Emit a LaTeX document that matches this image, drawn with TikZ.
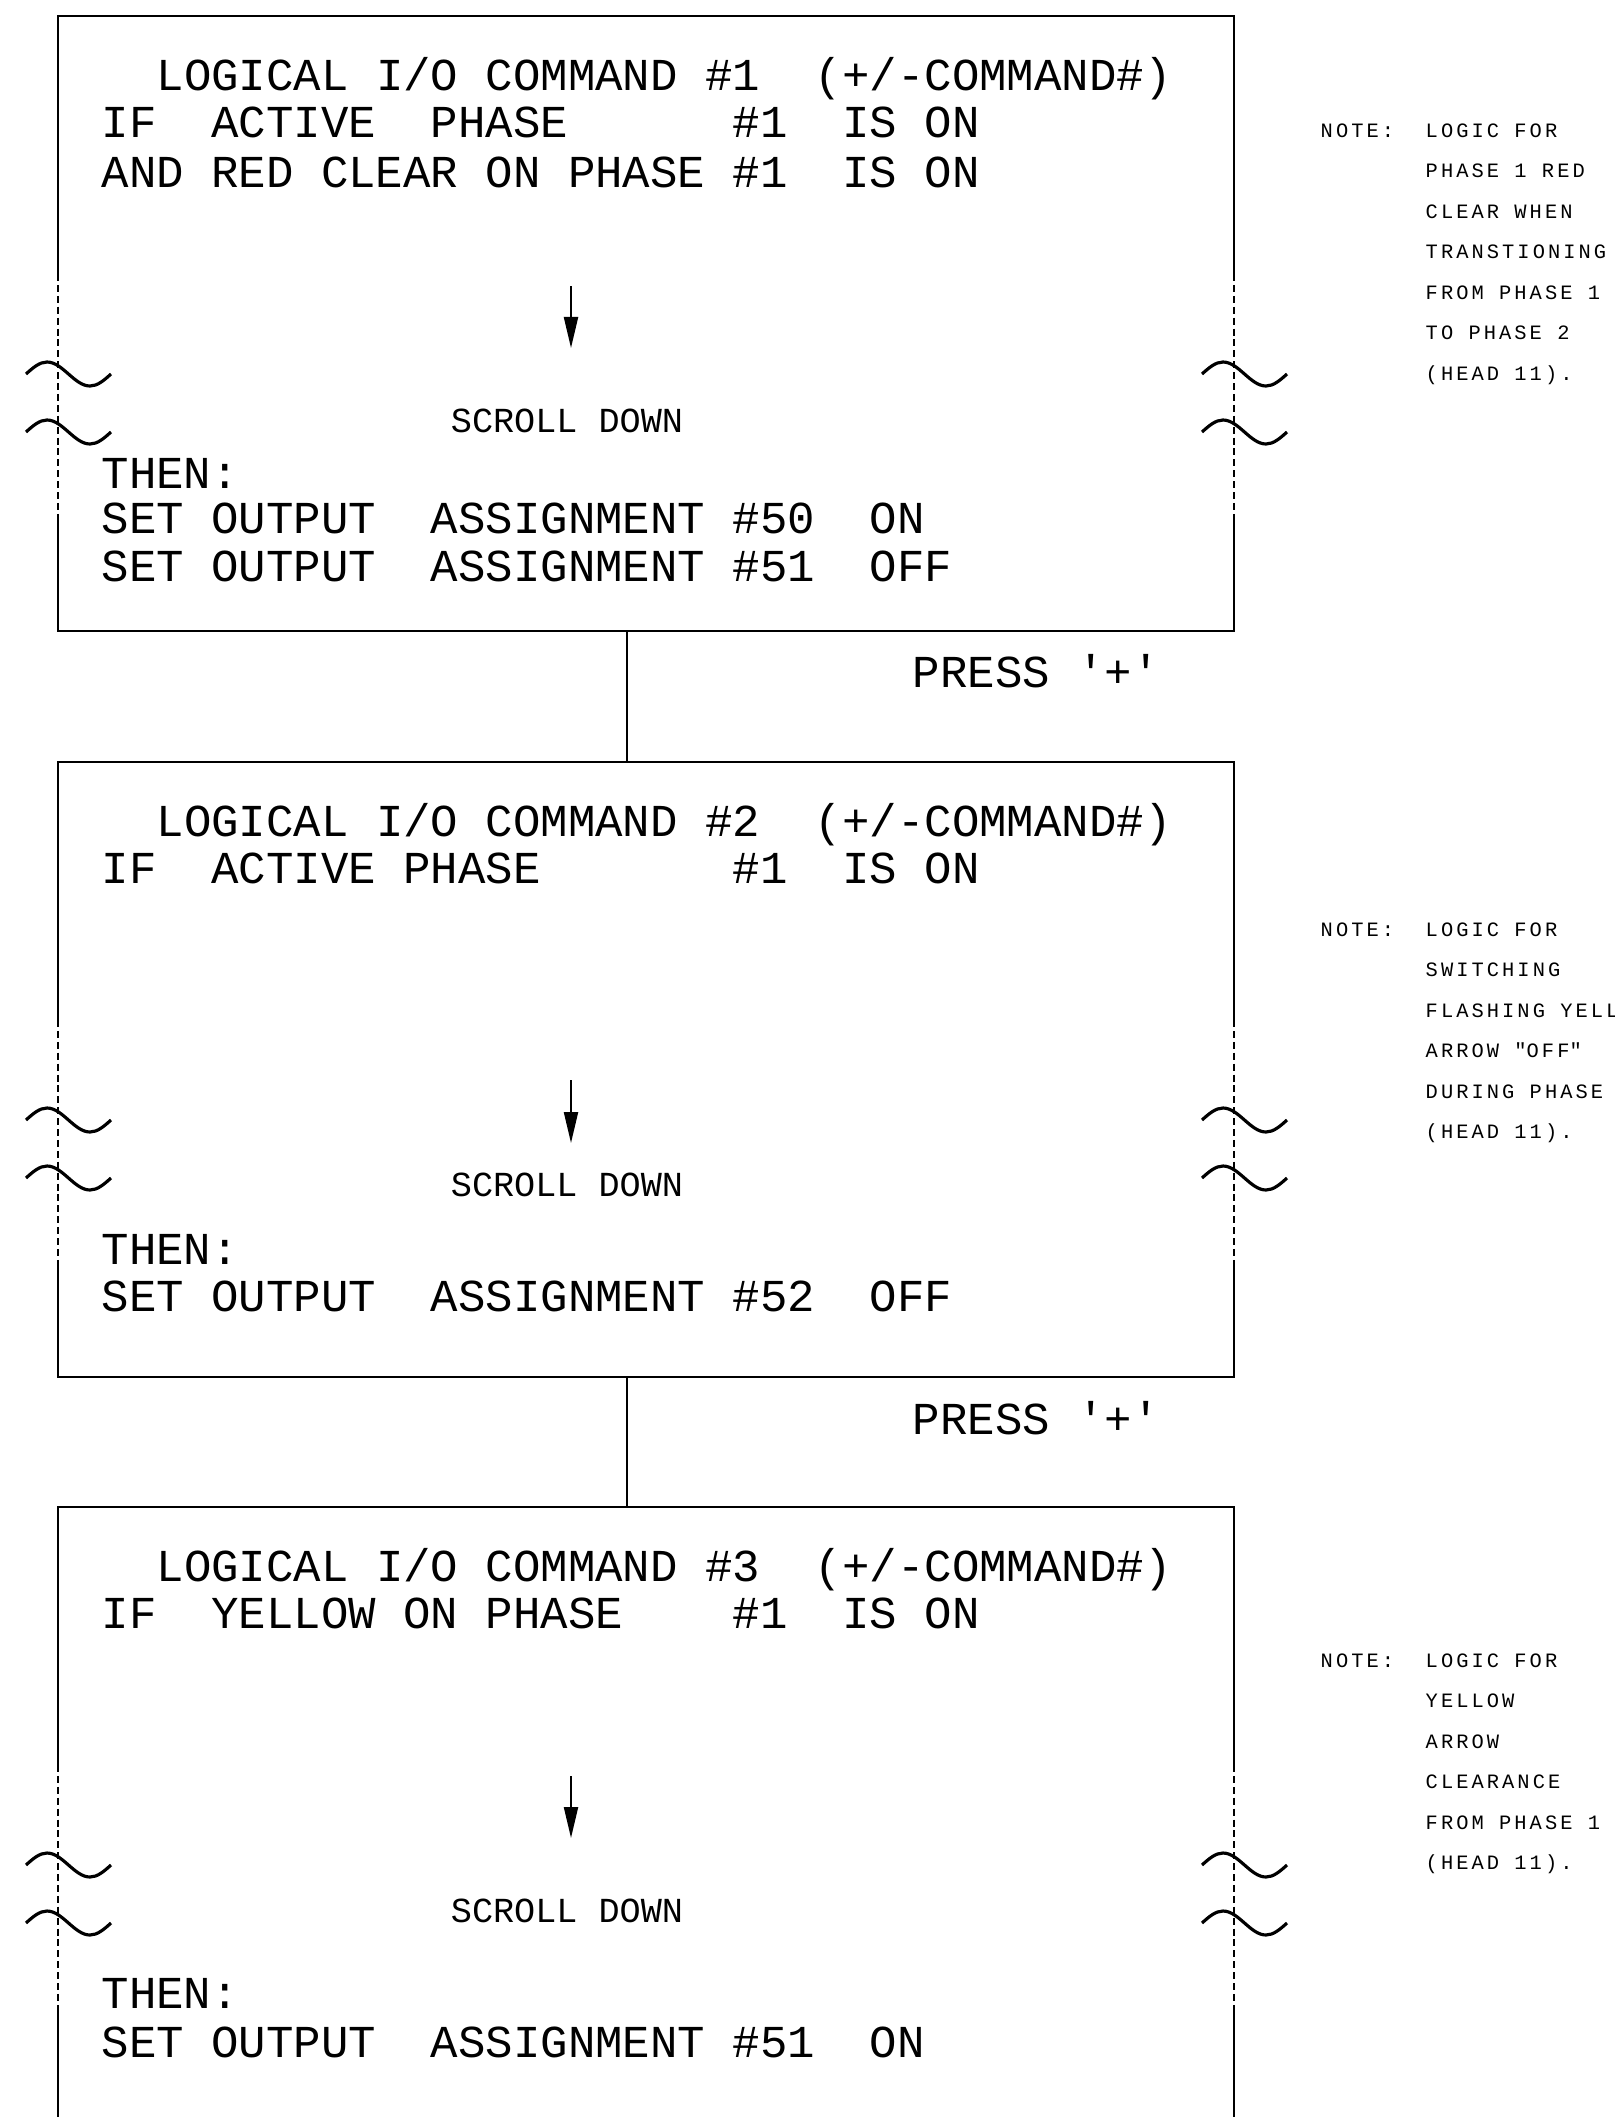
\documentclass[tikz,border=0pt]{standalone}
\usepackage{fontspec}
\usetikzlibrary{arrows.meta}
\newfontfamily\cadfont{Liberation Mono}
\newfontfamily\notefont[LetterSpace=15]{Liberation Mono}
\tikzset{
  frame/.style={line width=0.6pt},
  brk/.style={line width=0.6pt, dash pattern=on 2pt off 1.1pt},
  wave/.style={line width=0.9pt},
  scrollarrow/.style={line width=0.6pt, -{Triangle[length=3.1mm, width=1.4mm]}},
  cmd/.style={anchor=base west, inner sep=0pt, font=\cadfont\fontsize{13}{15}\selectfont},
  scrl/.style={anchor=base, inner sep=0pt, font=\cadfont\fontsize{10}{12}\selectfont},
  notetxt/.style={anchor=base west, inner sep=0pt, font=\notefont\fontsize{5.8}{7}\selectfont},
}
\begin{document}
\begin{tikzpicture}[x=0.01cm, y=-0.01cm]
  \useasboundingbox (0,0) rectangle (1614,2117);
  \clip (0,0) rectangle (1614,2117);
  % 상자 세 개와 끊김 표시
  \foreach \bt in {16,762,1507} {
    \draw[frame] (58,\bt+258) -- (58,\bt) -- (1234,\bt) -- (1234,\bt+258);
    \draw[frame] (58,\bt+499) -- (58,\bt+615) -- (1234,\bt+615) -- (1234,\bt+499);
    \draw[brk] (58,\bt+258) -- (58,\bt+499);
    \draw[brk] (1234,\bt+258) -- (1234,\bt+499);
    \foreach \ex in {58,1234}
      \foreach \w in {358,416}
        \draw[wave] (\ex-32,\bt+\w) sin (\ex-11,\bt+\w-12) cos (\ex+10.5,\bt+\w)
                    sin (\ex+32,\bt+\w+12) cos (\ex+53,\bt+\w);
  }
  % 연결선
  \coordinate (c1a) at (627,631);
  \coordinate (c1b) at (627,762);
  \coordinate (c2a) at (627,1377);
  \coordinate (c2b) at (627,1507);
  \draw[frame] (c1a) -- (c1b);
  \draw[frame] (c2a) -- (c2b);
  \node[cmd] (press1) at (912,687) {PRESS \textquotesingle+\textquotesingle};
  \node[cmd] (press2) at (912,1434) {PRESS \textquotesingle+\textquotesingle};

  % 명령 #1
  \node[cmd] (t1) at (101,90) {~~LOGICAL I/O COMMAND \#1~~(+/-COMMAND\#)};
  \node[cmd] (if1) at (101,137) {IF~~ACTIVE~~PHASE~~~~~~\#1~~IS ON};
  \node[cmd] (and1) at (101,187) {AND RED CLEAR ON PHASE \#1~~IS ON};
  \coordinate (a1s) at (571,286);
  \coordinate (a1e) at (571,348);
  \draw[scrollarrow] (a1s) -- (a1e);
  \node[scrl] (sd1) at (567,432) {SCROLL DOWN};
  \node[cmd] (then1) at (101,488) {THEN:};
  \node[cmd] (set1a) at (101,533) {SET OUTPUT~~ASSIGNMENT \#50~~ON};
  \node[cmd] (set1b) at (101,581) {SET OUTPUT~~ASSIGNMENT \#51~~OFF};

  % 명령 #2
  \node[cmd] (t2) at (101,836) {~~LOGICAL I/O COMMAND \#2~~(+/-COMMAND\#)};
  \node[cmd] (if2) at (101,883) {IF~~ACTIVE PHASE~~~~~~~\#1~~IS ON};
  \coordinate (a2s) at (571,1080);
  \coordinate (a2e) at (571,1143);
  \draw[scrollarrow] (a2s) -- (a2e);
  \node[scrl] (sd2) at (567,1196) {SCROLL DOWN};
  \node[cmd] (then2) at (101,1264) {THEN:};
  \node[cmd] (set2) at (101,1311) {SET OUTPUT~~ASSIGNMENT \#52~~OFF};

  % 명령 #3
  \node[cmd] (t3) at (101,1581) {~~LOGICAL I/O COMMAND \#3~~(+/-COMMAND\#)};
  \node[cmd] (if3) at (101,1628) {IF~~YELLOW ON PHASE~~~~\#1~~IS ON};
  \coordinate (a3s) at (571,1776);
  \coordinate (a3e) at (571,1838);
  \draw[scrollarrow] (a3s) -- (a3e);
  \node[scrl] (sd3) at (567,1922) {SCROLL DOWN};
  \node[cmd] (then3) at (101,2008) {THEN:};
  \node[cmd] (set3) at (101,2057) {SET OUTPUT~~ASSIGNMENT \#51~~ON};

  % 메모
  \node[notetxt] (n1) at (1320,137) {NOTE:};
  \foreach \s [count=\i] in {LOGIC FOR, PHASE 1 RED, CLEAR WHEN, TRANSTIONING,
      FROM PHASE 1, TO PHASE 2, {(HEAD 11).}}
    \node[notetxt] (n1l\i) at (1425,{137+(\i-1)*40.5}) {\s};
  \node[notetxt] (n2) at (1320,936) {NOTE:};
  \foreach \s [count=\i] in {LOGIC FOR, SWITCHING, FLASHING YELLOW,
      ARROW \textquotedbl OFF\textquotedbl, DURING PHASE, {(HEAD 11).}}
    \node[notetxt] (n2l\i) at (1425,{936+(\i-1)*40.5}) {\s};
  \node[notetxt] (n3) at (1320,1667) {NOTE:};
  \foreach \s [count=\i] in {LOGIC FOR, YELLOW, ARROW, CLEARANCE,
      FROM PHASE 1, {(HEAD 11).}}
    \node[notetxt] (n3l\i) at (1425,{1667+(\i-1)*40.5}) {\s};
\end{tikzpicture}
\end{document}
